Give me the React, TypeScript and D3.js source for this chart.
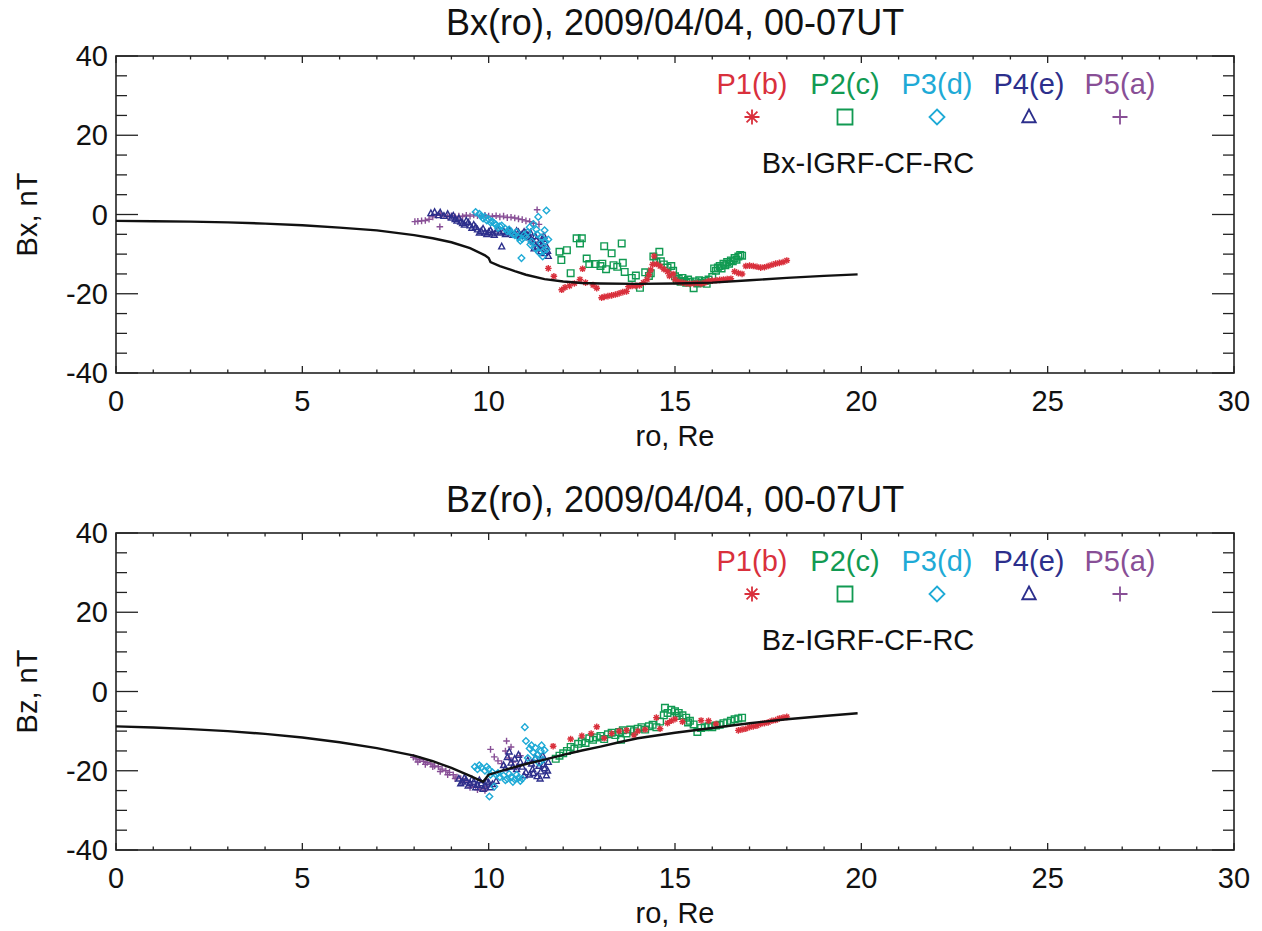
import React from "react";
import * as d3 from "d3";

// ---------- Data ----------
const xTicks = [0, 5, 10, 15, 20, 25, 30];
const yTicks = [-40, -20, 0, 20, 40];

const seriesNames = ["P1(b)", "P2(c)", "P3(d)", "P4(e)", "P5(a)"];
const seriesColors = ["#d9303c", "#119a52", "#1eaad6", "#2c2f8c", "#884f96"];
const seriesSymbols = ["asterisk", "square", "diamond", "triangle", "plus"];

// Model curves (ro, nT)
const bxModel: [number, number][] = [
  [0, -1.6], [1, -1.7], [2, -1.8], [3, -2.0], [4, -2.3], [5, -2.7], [6, -3.3], [7, -4.0],
  [8, -5.2], [8.5, -6.0], [9, -7.0], [9.5, -8.5], [9.9, -10.3], [10.0, -11.0], [10.05, -12.0],
  [10.3, -13.0], [10.7, -14.3], [11, -15.2], [11.5, -16.3], [12, -16.9], [12.5, -17.3],
  [13, -17.4], [14, -17.5], [15, -17.4], [16, -17.2], [17, -16.6], [18, -16.0], [19, -15.5], [19.9, -15.1],
];
const bzModel: [number, number][] = [
  [0, -8.8], [1, -9.1], [2, -9.5], [3, -10.0], [4, -10.7], [5, -11.6], [6, -12.8], [7, -14.3],
  [8, -16.2], [8.5, -17.6], [9, -19.3], [9.5, -21.3], [9.85, -22.8], [10.0, -21.0], [10.5, -19.6],
  [11, -18.3], [11.5, -17.2], [12, -16.0], [12.5, -14.9], [13, -13.9], [13.5, -12.8], [14, -11.8],
  [15, -10.4], [16, -9.2], [17, -8.0], [18, -7.0], [19, -6.2], [19.9, -5.5],
];

// Bx observations
const p1Bx: [number, number][] = [
  [11.6, -13.6], [11.75, -15.6], [11.96, -19.0], [12.05, -18.4], [12.17, -18.0], [12.3, -17.4], [12.45, -16.4],
  [12.52, -13.7], [12.6, -17.2], [12.8, -17.8], [12.9, -18.6], [13.03, -21.0], [13.1, -20.8], [13.2, -20.6],
  [13.3, -20.4], [13.4, -20.2], [13.5, -19.9], [13.6, -19.6], [13.7, -19.4], [13.75, -18.2], [13.85, -18.0],
  [13.95, -18.0], [14.05, -17.9], [14.15, -17.2], [14.25, -16.4], [14.3, -15.2], [14.35, -14.0], [14.4, -12.6],
  [14.44, -10.5], [14.5, -12.5], [14.6, -13.0], [14.7, -13.8], [14.8, -14.4], [14.85, -15.5], [14.95, -15.0],
  [15.0, -16.4], [15.1, -17.0], [15.2, -17.2], [15.3, -17.4], [15.4, -17.5], [15.5, -17.4], [15.6, -17.3],
  [15.7, -17.5], [15.8, -17.2], [15.9, -16.8], [16.0, -16.7], [16.1, -16.6], [16.2, -16.5], [16.3, -16.4],
  [16.4, -16.3], [16.5, -16.2], [16.6, -14.4], [16.7, -14.8], [16.8, -15.0], [16.9, -13.0], [17.0, -12.9],
  [17.1, -13.0], [17.2, -13.2], [17.3, -13.4], [17.4, -13.3], [17.5, -13.0], [17.6, -12.7], [17.7, -12.4],
  [17.8, -12.2], [17.9, -12.0], [18.0, -11.6],
];
const p2Bx: [number, number][] = [
  [11.9, -9.4], [11.95, -11.5], [12.1, -9.0], [12.2, -14.8], [12.36, -6.0], [12.45, -7.3], [12.5, -6.0],
  [12.63, -11.1], [12.7, -12.5], [12.85, -12.5], [13.0, -13.0], [13.05, -12.4], [13.1, -8.0], [13.15, -13.8],
  [13.3, -9.8], [13.35, -12.8], [13.45, -13.2], [13.57, -7.3], [13.6, -12.2], [13.65, -14.5], [13.84, -16.0],
  [13.95, -15.4], [14.06, -18.5], [14.2, -14.6], [14.3, -15.5], [14.35, -14.8], [14.42, -10.6], [14.5, -12.0],
  [14.58, -9.4], [14.62, -11.8], [14.7, -12.6], [14.8, -13.4], [14.9, -13.0], [14.95, -14.2], [15.0, -15.6],
  [15.05, -16.6], [15.1, -16.2], [15.15, -17.0], [15.2, -16.0], [15.25, -16.8], [15.3, -17.2], [15.35, -16.4],
  [15.4, -17.0], [15.5, -18.6], [15.55, -16.9], [15.6, -17.4], [15.65, -16.6], [15.7, -17.2], [15.8, -16.8],
  [15.85, -17.5], [15.9, -16.4], [16.0, -15.8], [16.05, -13.6], [16.1, -14.2], [16.15, -13.4], [16.2, -13.0],
  [16.25, -13.6], [16.3, -12.4], [16.35, -12.8], [16.4, -12.0], [16.45, -12.4], [16.5, -11.6], [16.55, -11.8],
  [16.6, -11.0], [16.65, -11.4], [16.7, -10.6], [16.75, -10.2], [16.8, -10.4],
];
const p3Bx: [number, number][] = [
  [9.65, 0.6], [9.75, 0.2], [9.8, -0.4], [9.85, -1.0], [9.9, -0.6], [9.95, -1.5], [10.0, -1.2], [10.05, -2.0],
  [10.1, -1.8], [10.15, -2.2], [10.2, -2.6], [10.25, -3.4], [10.3, -3.0], [10.35, -2.8], [10.45, -3.6],
  [10.5, -4.2], [10.55, -3.8], [10.6, -4.6], [10.65, -5.0], [10.7, -5.2], [10.75, -4.4], [10.8, -5.8],
  [10.85, -6.6], [10.88, -11.0], [10.9, -6.2], [10.95, -5.2], [11.0, -5.6], [11.05, -4.5], [11.1, -3.2],
  [11.12, -7.6], [11.15, -6.8], [11.2, -2.4], [11.25, -8.5], [11.28, -3.8], [11.3, -5.0], [11.33, -0.6],
  [11.35, -9.6], [11.4, -7.2], [11.42, -5.8], [11.45, -10.6], [11.48, -9.0], [11.5, -4.0], [11.52, -6.8],
  [11.55, -8.8], [11.55, 1.0], [11.6, -6.3],
];
const p4Bx: [number, number][] = [
  [8.45, 0.3], [8.55, 0.6], [8.65, -0.2], [8.7, 0.5], [8.8, -0.4], [8.9, 0.1], [9.0, -0.8], [9.05, -0.3],
  [9.1, -1.2], [9.15, -1.6], [9.2, -1.0], [9.25, -1.8], [9.3, -2.2], [9.35, -2.6], [9.4, -1.6], [9.45, -2.0],
  [9.5, -2.8], [9.55, -3.4], [9.6, -2.6], [9.65, -3.2], [9.7, -3.8], [9.75, -4.6], [9.8, -4.2], [9.85, -3.6],
  [9.9, -4.6], [9.95, -5.0], [10.0, -4.4], [10.05, -4.0], [10.1, -4.8], [10.15, -5.2], [10.2, -4.3],
  [10.25, -3.8], [10.3, -4.6], [10.35, -8.1], [10.4, -4.2], [10.45, -5.0], [10.5, -4.6], [10.55, -4.0],
  [10.6, -4.4], [10.65, -5.2], [10.7, -4.9], [10.75, -4.2], [10.8, -4.5], [10.85, -5.4], [10.9, -5.0],
  [10.95, -4.4], [11.0, -4.7], [11.05, -5.4], [11.1, -5.8], [11.12, -4.6], [11.15, -6.5], [11.2, -7.0],
  [11.22, -8.6], [11.25, -5.5], [11.28, -6.4], [11.3, -8.2], [11.35, -7.4], [11.4, -9.3], [11.42, -7.8],
  [11.45, -6.2], [11.48, -5.4], [11.5, -9.8], [11.55, -8.0], [11.58, -9.2], [11.6, -10.5],
];
const p5Bx: [number, number][] = [
  [8.02, -1.8], [8.1, -1.7], [8.2, -1.6], [8.3, -1.5], [8.4, -1.2], [8.5, -0.6], [8.6, -0.2], [8.7, 0.2],
  [8.69, -3.1], [8.8, -0.3], [8.9, -0.5], [9.0, -0.3], [9.1, -0.6], [9.2, -0.4], [9.3, -0.5], [9.4, -0.2],
  [9.5, -0.4], [9.6, -0.1], [9.7, -0.3], [9.8, -0.5], [9.9, -0.2], [10.0, -0.4], [10.1, -0.5], [10.2, -0.3],
  [10.3, -0.6], [10.4, -0.4], [10.5, -0.8], [10.6, -0.7], [10.7, -0.9], [10.8, -1.1], [10.9, -1.3],
  [11.0, -1.6], [11.1, -1.8], [11.2, -2.2], [11.3, 1.2], [11.35, -2.5],
];

// Bz observations
const p1Bz: [number, number][] = [
  [11.73, -13.8], [12.2, -12.0], [12.5, -11.2], [12.75, -10.6], [12.9, -8.9], [13.1, -11.8], [13.3, -10.6],
  [13.5, -10.0], [13.7, -9.8], [13.9, -11.0], [14.0, -10.0], [14.2, -9.6], [14.5, -6.6], [14.6, -9.4],
  [14.8, -8.0], [14.9, -7.4], [15.0, -7.0], [15.2, -7.6], [15.7, -7.3], [15.9, -7.4], [16.1, -8.2],
  [16.7, -9.8], [16.8, -9.6], [16.9, -9.4], [17.0, -9.0], [17.1, -8.8], [17.2, -8.6], [17.3, -8.2],
  [17.4, -8.0], [17.5, -7.8], [17.6, -7.4], [17.7, -7.2], [17.8, -6.8], [17.9, -6.6], [18.0, -6.4],
];
const p2Bz: [number, number][] = [
  [11.8, -17.0], [11.9, -16.2], [12.0, -15.6], [12.1, -15.0], [12.2, -14.0], [12.3, -14.4], [12.4, -13.2],
  [12.5, -12.6], [12.6, -13.0], [12.7, -11.8], [12.8, -12.2], [12.9, -11.6], [13.0, -11.2], [13.1, -12.0],
  [13.2, -10.8], [13.3, -10.4], [13.4, -11.0], [13.5, -10.2], [13.55, -12.2], [13.6, -9.8], [13.7, -10.6],
  [13.8, -9.6], [13.9, -10.0], [14.0, -9.4], [14.1, -9.0], [14.2, -9.6], [14.3, -8.8], [14.4, -8.4],
  [14.5, -9.0], [14.6, -7.6], [14.7, -6.0], [14.73, -4.1], [14.8, -5.4], [14.9, -4.6], [15.0, -5.0],
  [15.05, -6.2], [15.1, -5.4], [15.2, -6.0], [15.3, -6.6], [15.35, -7.8], [15.4, -7.4], [15.5, -8.3],
  [15.6, -10.2], [15.7, -9.2], [15.8, -9.0], [15.9, -8.8], [16.0, -9.0], [16.1, -8.6], [16.2, -8.4],
  [16.3, -8.0], [16.4, -7.8], [16.5, -7.4], [16.6, -7.0], [16.7, -6.8], [16.8, -6.6],
];
const p3Bz: [number, number][] = [
  [9.63, -19.0], [9.7, -19.6], [9.75, -18.6], [9.8, -19.2], [9.9, -20.0], [9.95, -19.0], [10.0, -19.6],
  [10.02, -26.5], [10.05, -21.0], [10.1, -20.4], [10.15, -24.0], [10.2, -21.0], [10.25, -20.6], [10.3, -21.6],
  [10.4, -21.2], [10.45, -22.4], [10.5, -22.0], [10.55, -20.8], [10.6, -21.6], [10.65, -22.8], [10.7, -22.2],
  [10.75, -21.0], [10.8, -21.8], [10.85, -22.6], [10.9, -22.0], [10.97, -9.0], [11.0, -12.5], [11.05, -16.8],
  [11.1, -14.4], [11.15, -13.6], [11.2, -15.4], [11.25, -14.2], [11.28, -17.0], [11.3, -16.0], [11.35, -18.0],
  [11.4, -15.0], [11.42, -13.6], [11.45, -17.2], [11.5, -14.8],
];
const p4Bz: [number, number][] = [
  [9.2, -22.0], [9.25, -23.2], [9.3, -22.8], [9.35, -21.8], [9.4, -22.4], [9.45, -23.8], [9.5, -23.2],
  [9.55, -22.2], [9.6, -22.8], [9.65, -24.2], [9.7, -23.6], [9.75, -22.4], [9.8, -23.2], [9.85, -24.6],
  [9.9, -23.8], [9.95, -22.8], [10.0, -23.0], [10.05, -24.2], [10.1, -23.4], [10.2, -22.6], [10.4, -18.6],
  [10.45, -19.4], [10.5, -16.6], [10.55, -15.2], [10.6, -18.0], [10.65, -19.0], [10.7, -17.0], [10.75, -19.6],
  [10.8, -16.0], [10.85, -17.8], [10.9, -19.0], [10.95, -21.2], [11.0, -20.4], [11.05, -17.4], [11.1, -21.0],
  [11.15, -18.2], [11.18, -19.6], [11.2, -20.6], [11.25, -16.8], [11.3, -21.4], [11.35, -18.8], [11.38, -22.0],
  [11.4, -20.2], [11.45, -16.2], [11.48, -18.4], [11.5, -19.4], [11.55, -21.2], [11.58, -20.0], [11.6, -17.8],
];
const p5Bz: [number, number][] = [
  [7.98, -16.6], [8.05, -17.0], [8.1, -17.8], [8.15, -17.2], [8.25, -17.6], [8.3, -18.4], [8.35, -17.9],
  [8.45, -18.3], [8.5, -19.0], [8.55, -18.8], [8.65, -19.0], [8.7, -20.2], [8.75, -19.6], [8.85, -20.0],
  [8.9, -21.0], [8.95, -20.4], [9.05, -21.0], [9.1, -22.0], [9.15, -21.6], [9.25, -22.0], [9.3, -23.0],
  [9.35, -22.6], [9.45, -23.0], [9.5, -24.2], [9.55, -23.5], [9.65, -24.0], [9.7, -24.8], [9.75, -24.2],
  [9.85, -24.5], [9.9, -25.0], [9.95, -24.0], [10.05, -14.6], [10.15, -16.5], [10.25, -17.5], [10.35, -18.2],
  [10.45, -15.0], [10.48, -12.5], [10.55, -16.8], [10.6, -14.0], [10.65, -17.8], [10.75, -19.0], [10.85, -16.2],
];

// ---------- Drawing ----------
const FONT = "'Liberation Sans', Arial, Helvetica, sans-serif";

function markerPath(type: string, h: number): string {
  const k = h * 0.72;
  switch (type) {
    case "asterisk":
      return `M0,${-h}V${h}M${-h},0H${h}M${-k},${-k}L${k},${k}M${-k},${k}L${k},${-k}`;
    case "square":
      return `M${-h},${-h}H${h}V${h}H${-h}Z`;
    case "diamond":
      return `M0,${-h}L${h},0L0,${h}L${-h},0Z`;
    case "triangle":
      return `M0,${-h}L${h * 0.9},${h * 0.7}L${-h * 0.9},${h * 0.7}Z`;
    default:
      return `M${-h},0H${h}M0,${-h}V${h}`;
  }
}

type PanelProps = {
  top: number;
  title: string;
  ylabel: string;
  annotation: string;
  model: [number, number][];
  obs: [number, number][][];
};

const LEFT = 116;
const RIGHT = 1234;
const PH = 317;

function Panel({ top, title, ylabel, annotation, model, obs }: PanelProps) {
  const x = d3.scaleLinear().domain([0, 30]).range([LEFT, RIGHT]);
  const y = d3.scaleLinear().domain([-40, 40]).range([top + PH, top]);
  const bottom = top + PH;
  const line = d3.line<[number, number]>().x((d) => x(d[0])).y((d) => y(d[1]));
  const xMinor = d3.range(0, 31, 1);
  const yMinor = d3.range(-40, 41, 5);
  const legendX = [752, 845, 937, 1029, 1120];
  const drawOrder = [4, 3, 2, 1, 0];
  const majLenY = 22, minLenY = 11, majLenX = 7, minLenX = 3.5;
  return (
    <g>
      <text x={(LEFT + RIGHT) / 2} y={top - 21} textAnchor="middle" fontFamily={FONT} fontSize={36} fill="#111">
        {title}
      </text>
      {/* frame */}
      <rect x={LEFT} y={top} width={RIGHT - LEFT} height={PH} fill="none" stroke="#222" strokeWidth={1.6} />
      {/* x ticks */}
      {xMinor.map((v) => {
        const major = v % 5 === 0;
        const L = major ? majLenX : minLenX;
        return (
          <g key={"xt" + v} stroke="#222" strokeWidth={1.3}>
            <line x1={x(v)} x2={x(v)} y1={bottom} y2={bottom - L} />
            <line x1={x(v)} x2={x(v)} y1={top} y2={top + L} />
          </g>
        );
      })}
      {yMinor.map((v) => {
        const major = v % 20 === 0;
        const L = major ? majLenY : minLenY;
        return (
          <g key={"yt" + v} stroke="#222" strokeWidth={1.3}>
            <line x1={LEFT} x2={LEFT + L} y1={y(v)} y2={y(v)} />
            <line x1={RIGHT} x2={RIGHT - L} y1={y(v)} y2={y(v)} />
          </g>
        );
      })}
      {xTicks.map((v) => (
        <text key={"xl" + v} x={x(v)} y={bottom + 38} textAnchor="middle" fontFamily={FONT} fontSize={29} fill="#111">
          {v}
        </text>
      ))}
      {yTicks.map((v) => (
        <text key={"yl" + v} x={LEFT - 8} y={y(v) + 10} textAnchor="end" fontFamily={FONT} fontSize={29} fill="#111">
          {v}
        </text>
      ))}
      <text x={(LEFT + RIGHT) / 2} y={bottom + 73} textAnchor="middle" fontFamily={FONT} fontSize={29} fill="#111">
        ro, Re
      </text>
      <text
        transform={`translate(37,${(top + bottom) / 2}) rotate(-90)`}
        textAnchor="middle"
        fontFamily={FONT}
        fontSize={29}
        fill="#111"
      >
        {ylabel}
      </text>
      {/* legend */}
      {seriesNames.map((n, i) => (
        <g key={"lg" + i}>
          <text x={legendX[i]} y={top + 38} textAnchor="middle" fontFamily={FONT} fontSize={29} fill={seriesColors[i]}>
            {n}
          </text>
          <path
            transform={`translate(${legendX[i]},${top + 61})`}
            d={markerPath(seriesSymbols[i], 7.5)}
            fill="none"
            stroke={seriesColors[i]}
            strokeWidth={1.8}
          />
        </g>
      ))}
      <text x={868} y={top + 117} textAnchor="middle" fontFamily={FONT} fontSize={29} fill="#111">
        {annotation}
      </text>
      {/* observations */}
      {drawOrder.map((si) => (
        <g key={"s" + si} fill="none" stroke={seriesColors[si]} strokeWidth={1.4}>
          {obs[si].map((d, j) => (
            <path key={j} transform={`translate(${x(d[0])},${y(d[1])})`} d={markerPath(seriesSymbols[si], 3.3)} />
          ))}
        </g>
      ))}
      {/* model */}
      <path d={line(model) || ""} fill="none" stroke="#111" strokeWidth={2.4} />
    </g>
  );
}

export default function App() {
  return (
    <svg
      width={1262}
      height={931}
      style={{ position: "absolute", left: 0, top: 0, background: "#fff" }}
    >
      <rect x={0} y={0} width={1262} height={931} fill="#fff" />
      <Panel
        top={56}
        title="Bx(ro), 2009/04/04, 00-07UT"
        ylabel="Bx, nT"
        annotation="Bx-IGRF-CF-RC"
        model={bxModel}
        obs={[p1Bx, p2Bx, p3Bx, p4Bx, p5Bx]}
      />
      <Panel
        top={533}
        title="Bz(ro), 2009/04/04, 00-07UT"
        ylabel="Bz, nT"
        annotation="Bz-IGRF-CF-RC"
        model={bzModel}
        obs={[p1Bz, p2Bz, p3Bz, p4Bz, p5Bz]}
      />
    </svg>
  );
}
